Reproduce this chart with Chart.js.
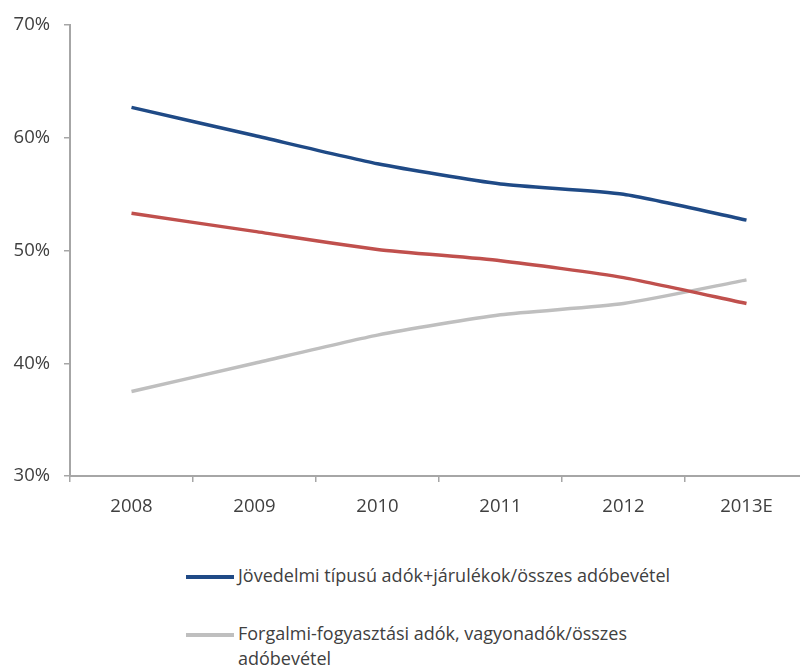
<!DOCTYPE html>
<html lang="hu">
<head>
<meta charset="utf-8">
<title>Adóbevételek szerkezete</title>
<script src="https://cdn.jsdelivr.net/npm/chart.js@4"></script>
<style>
	html, body { margin: 0; padding: 0; background: #fff; }
	body { width: 800px; height: 671px; overflow: hidden; position: relative; font-family: "Open Sans", sans-serif; }
	#wrap { position: absolute; left: 0; top: 0; width: 820px; height: 530px; }
	#legend { position: absolute; left: 186px; top: 563px; width: 520px; color: #404040; font-size: 18px; line-height: 25px; }
	.item { display: flex; align-items: flex-start; margin-bottom: 33px; }
	.swatch { flex: 0 0 48px; height: 4px; margin-top: 12px; margin-right: 4px; }
	.text { max-width: 460px; }
</style>
</head>
<body>
<div id="wrap"><canvas id="taxChart" width="820" height="530"></canvas></div>
<div id="legend"></div>

<script>
// Évek és arányok (%)
const years = ["2008", "2009", "2010", "2011", "2012", "2013E"];
const incomeShare = [62.7, 60.2, 57.7, 55.9, 55.0, 52.7];
const otherShare = [53.3, 51.7, 50.1, 49.1, 47.6, 45.3];
const consumptionShare = [37.5, 40.0, 42.5, 44.3, 45.3, 47.4];
const yTicks = [30, 40, 50, 60, 70];

const incomeLabel = "Jövedelmi típusú adók+járulékok/összes adóbevétel";
const consumptionLabel = "Forgalmi-fogyasztási adók, vagyonadók/összes adóbevétel";

const axisColor = "#a6a6a6";
const textColor = "#404040";
const tickFont = { family: "Open Sans", size: 18.5 };

document.addEventListener("DOMContentLoaded", function() {
	const ctx = document.getElementById("taxChart").getContext("2d");
	const chart = new Chart(ctx, {
		type: "line",
		data: {
			labels: years,
			datasets: [
				{ label: incomeLabel, data: incomeShare, borderColor: "#1f4a86", backgroundColor: "#1f4a86" },
				{ label: "", data: otherShare, borderColor: "#c0504d", backgroundColor: "#c0504d" },
				{ label: consumptionLabel, data: consumptionShare, borderColor: "#bfbfbf", backgroundColor: "#bfbfbf" },
			].map((d) => Object.assign(d, { borderWidth: 3.5, pointRadius: 0, tension: 0.2, fill: false })),
		},
		options: {
			responsive: false,
			animation: false,
			layout: { padding: { top: 24, right: 12, left: 0, bottom: 0 } },
			plugins: { legend: { display: false }, tooltip: { enabled: false } },
			scales: {
				x: {
					offset: true,
					grid: { offset: true, drawOnChartArea: false, tickLength: 6, color: axisColor, lineWidth: 1.5 },
					border: { color: axisColor, width: 2 },
					ticks: { color: textColor, padding: 14, font: tickFont },
					afterFit: (scale) => { scale.height = 54; },
				},
				y: {
					min: 30,
					max: 70,
					afterBuildTicks: (scale) => { scale.ticks = yTicks.map((v) => ({ value: v })); },
					grid: { drawOnChartArea: false, tickLength: 6, color: axisColor, lineWidth: 1.5 },
					border: { color: axisColor, width: 2 },
					ticks: { color: textColor, padding: 14, font: tickFont, callback: (v) => v + "%" },
					afterFit: (scale) => { scale.width = 70; },
				},
			},
		},
	});

	// Jelmagyarázat: csak a felirattal rendelkező sorok
	const legendEl = document.getElementById("legend");
	chart.data.datasets.filter((d) => d.label).forEach((d) => {
		const item = document.createElement("div");
		item.className = "item";
		const sw = document.createElement("span");
		sw.className = "swatch";
		sw.style.background = d.borderColor;
		const txt = document.createElement("span");
		txt.className = "text";
		txt.textContent = d.label;
		item.appendChild(sw);
		item.appendChild(txt);
		legendEl.appendChild(item);
	});
});
</script>
</body>
</html>
